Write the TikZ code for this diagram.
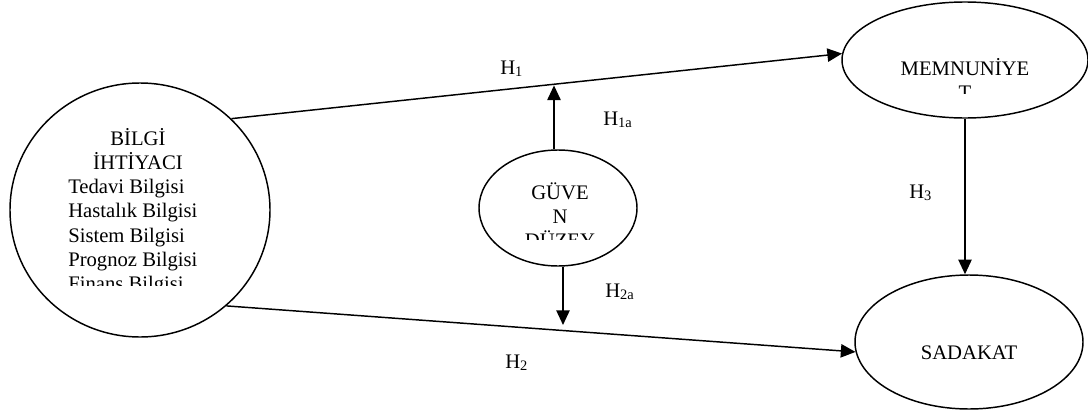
\documentclass[tikz,border=0pt]{standalone}
\usepackage{fontspec}
\setmainfont{Liberation Serif}
\usetikzlibrary{shapes.geometric,arrows.meta}
\begin{document}
\begin{tikzpicture}[x=0.75pt,y=-0.75pt,
  bubble/.style={draw,line width=1.1pt,ellipse,inner sep=0pt},
  arr/.style={line width=1.1pt,-{Triangle[length=11pt,width=10pt]}},
  txt/.style={font=\fontsize{15.5}{18}\selectfont,inner sep=0pt},
  ctext/.style={txt,anchor=base},
  ltext/.style={txt,anchor=base west}]
\useasboundingbox (0,0) rectangle (1088,414);
% ellipses
\node[bubble,minimum width=195pt,minimum height=190.5pt] (need) at (140,210) {};
\node[bubble,minimum width=118.5pt,minimum height=87pt] (gue) at (558,208) {};
\node[bubble,minimum width=184.5pt,minimum height=87pt] (mem) at (965,60) {};
\node[bubble,minimum width=171pt,minimum height=100.5pt] (sad) at (969,342) {};
% texts (clipped as in the reference)
\begin{scope}
  \clip (0,0) rectangle (300,285);
  \node[ctext] (t1) at (138,145) {BİLGİ};
  \node[ctext] (t2) at (138,169.3) {İHTİYACI};
  \node[ltext] (t3) at (68,193.6) {Tedavi Bilgisi};
  \node[ltext] (t4) at (68,217.9) {Hastalık Bilgisi};
  \node[ltext] (t5) at (68,242.2) {Sistem Bilgisi};
  \node[ltext] (t6) at (68,266.5) {Prognoz Bilgisi};
  \node[ltext] (t7) at (68,290.8) {Finans Bilgisi};
\end{scope}
\begin{scope}
  \clip (480,150) rectangle (640,239);
  \node[ctext] (g1) at (560,199) {GÜVE};
  \node[ctext] (g2) at (560,223) {N};
  \node[ctext] (g3) at (560,247) {DÜZEY};
\end{scope}
\begin{scope}
  \clip (840,0) rectangle (1088,93);
  \node[ctext] (m1) at (965,75) {MEMNUNİYE};
  \node[ctext] (m2) at (965,99) {T};
\end{scope}
\node[ctext] (s1) at (969,359) {SADAKAT};
% connectors
\coordinate (uptip) at (554,85.4);
\coordinate (downtip) at (563,325);
\draw[arr] (need.45.6) -- (mem.177);
\draw[arr] (need.-48) -- (sad.185);
\draw[arr] (gue.north -| uptip) -- (uptip);
\draw[arr] (gue.south -| downtip) -- (downtip);
\draw[arr] (mem.south) -- (mem.south |- sad.north);
% labels
\node[ltext] (h1) at (500,74) {H\textsubscript{1}};
\node[ltext] (h1a) at (603,125) {H\textsubscript{1a}};
\node[ltext] (h3) at (909,198) {H\textsubscript{3}};
\node[ltext] (h2a) at (605,297) {H\textsubscript{2a}};
\node[ltext] (h2) at (505,368) {H\textsubscript{2}};
\end{tikzpicture}
\end{document}
